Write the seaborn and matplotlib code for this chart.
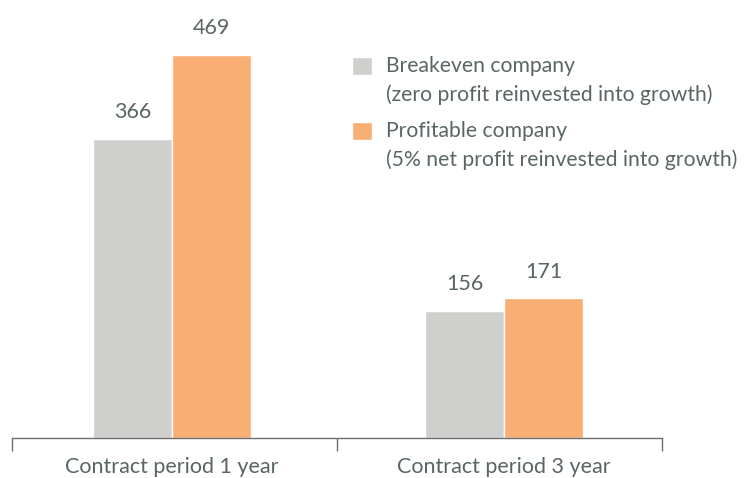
import numpy as np
import pandas as pd
import matplotlib
matplotlib.use("Agg")
import matplotlib.pyplot as plt
import seaborn as sns

periods = ["Contract period 1 year", "Contract period 3 year"]
companies = ["Breakeven company\n(zero profit reinvested into growth)",
             "Profitable company\n(5% net profit reinvested into growth)"]
breakeven = [366, 156]
profitable = [469, 171]

df = pd.DataFrame({
    "period": periods * 2,
    "company": [companies[0]] * 2 + [companies[1]] * 2,
    "value": breakeven + profitable,
})

sns.set_style("white")
plt.rcParams["font.family"] = ["Lato", "DejaVu Sans"]
txt = "#5a675f"
fs = 15.5

fig = plt.figure(figsize=(7.46, 4.78), dpi=100)
ax = fig.add_axes([12 / 746, 40 / 478, 650 / 746, 438 / 478])

sns.barplot(data=df, x="period", y="value", hue="company",
            palette=["#cfcfcd", "#f9ae74"], width=0.476, saturation=1,
            ax=ax, legend=True)

for c in ax.containers:
    ax.bar_label(c, padding=12, fontsize=fs, color=txt)

lo, hi = -160 / 332, 490 / 332
ax.set_xlim(lo, hi)
ax.set_ylim(0, 536)
ax.set_xlabel("")
ax.set_ylabel("")
ax.set_yticks([])
for s in ["top", "left", "right"]:
    ax.spines[s].set_visible(False)
ax.spines["bottom"].set_color("#6e6e6e")
ax.spines["bottom"].set_linewidth(1)

ax.set_xticks([lo, 165 / 332, hi])
ax.set_xticklabels([])
ax.tick_params(axis="x", which="major", length=9, width=1, color="#6e6e6e",
               direction="out", bottom=True)
ax.set_xticks([0, 1], minor=True)
ax.set_xticklabels(periods, minor=True, fontsize=fs, color=txt)
ax.tick_params(axis="x", which="minor", length=0, pad=14)

handles, labels = ax.get_legend_handles_labels()
leg = ax.legend(handles, labels, loc="upper left", bbox_to_anchor=(340 / 650, 1 - 56 / 438),
                frameon=False, handlelength=0.95, handleheight=0.95,
                handletextpad=0.65, labelspacing=0.75, borderaxespad=0, borderpad=0,
                labelcolor=txt, prop={"size": 15.2})
for t in leg.get_texts():
    t.set_linespacing(1.5)
for p in leg.legend_handles:
    p.set_y(p.get_y() + 11)

fig.savefig("out.png", dpi=100)
